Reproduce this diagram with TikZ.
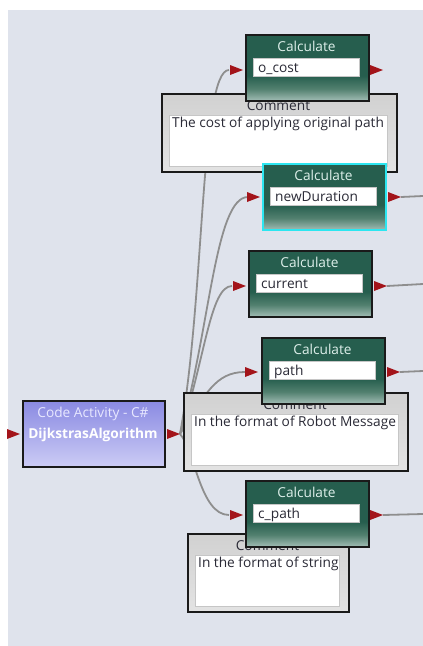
\documentclass[tikz,border=0pt]{standalone}
\usepackage{fontspec}
\setmainfont{Open Sans}
\usetikzlibrary{calc}
\definecolor{bg}{HTML}{DFE3EC}
\definecolor{calcdark}{HTML}{265E4E}
\definecolor{calcmid}{HTML}{52806F}
\definecolor{calclight}{HTML}{A2BDB5}
\definecolor{calctitlec}{HTML}{DDEFEA}
\definecolor{boxborder}{HTML}{1A1A1A}
\definecolor{cyanborder}{HTML}{2CE6F0}
\definecolor{cmttop}{HTML}{D1D1D1}
\definecolor{cmtbot}{HTML}{E3E3E3}
\definecolor{cmtinnerb}{HTML}{C6C6C6}
\definecolor{codetop}{HTML}{8A8AE2}
\definecolor{codebot}{HTML}{CCCCF5}
\definecolor{codetitlec}{HTML}{E8E8FF}
\definecolor{connc}{HTML}{8E8E8E}
\definecolor{arrowred}{HTML}{A3141A}
\definecolor{textdark}{HTML}{2A2A36}
\pgfdeclareverticalshading{calcshade}{100bp}{color(0bp)=(calclight); color(25bp)=(calclight); color(34bp)=(calcmid); color(44bp)=(calcdark); color(100bp)=(calcdark)}
\newcommand{\calcblk}[5]{%
  \node[calcbox,#5] (#1) at (#2,#3) {};
  \node[calctitle] (#1-title) at ({#2+61.5},{#3+17}) {Calculate};
  \node[calcfield] (#1-field) at ({#2+8},{#3+24}) {};
  \node[fieldtext] (#1-text) at ({#2+13},{#3+38}) {#4};
}
\newcommand{\cmtblk}[5]{%
  \node[cmtbox,minimum width=#4] (#1) at (#2,#3) {};
  \node[cmttitle] (#1-title) at ({#2+#4/2},{#3+17}) {Comment};
  \node[cmtinner,minimum width={#4-17}] (#1-inner) at ({#2+8},{#3+22}) {};
  \node[cmttext] (#1-text) at ({#2+11},{#3+34}) {#5};
}
\newcommand{\redtri}[1]{\fill[arrowred] (#1) -- ++(-13,-5) -- ++(0,10) -- cycle;}
\begin{document}
\begin{tikzpicture}[x=1pt,y=-1pt,
  every node/.style={font=\fontsize{13.7}{16}\selectfont},
  calcbox/.style={anchor=north west,rectangle,inner sep=0pt,minimum width=123pt,minimum height=66pt,shading=calcshade,draw=boxborder,line width=1.5pt},
  cyanframe/.style={draw=cyanborder,line width=2pt},
  calctitle/.style={anchor=base,inner sep=0pt,text=calctitlec},
  calcfield/.style={anchor=north west,rectangle,inner sep=0pt,minimum width=106pt,minimum height=18pt,fill=white,draw=cmtinnerb,line width=0.6pt},
  fieldtext/.style={anchor=base west,inner sep=0pt,text=textdark},
  cmtbox/.style={anchor=north west,rectangle,inner sep=0pt,minimum height=78pt,top color=cmttop,bottom color=cmtbot,draw=boxborder,line width=1.5pt},
  cmttitle/.style={anchor=base,inner sep=0pt,text=textdark},
  cmtinner/.style={anchor=north west,rectangle,inner sep=0pt,minimum height=51pt,fill=white,draw=cmtinnerb,line width=1pt},
  cmttext/.style={anchor=base west,inner sep=0pt,text=textdark},
  codebox/.style={anchor=north west,rectangle,inner sep=0pt,minimum width=142pt,minimum height=66pt,top color=codetop,bottom color=codebot,draw=boxborder,line width=1.5pt},
  codetitle/.style={anchor=base,inner sep=0pt,text=codetitlec},
  codename/.style={anchor=base,inner sep=0pt,text=white,font=\fontsize{13.7}{16}\selectfont\bfseries},
  conn/.style={draw=connc,line width=1.8pt}
]
\useasboundingbox (0,0) rectangle (423,646);
\fill[bg] (8,10) rectangle (423,646);

% connector end points
\coordinate (src) at (180,434);
\coordinate (dijk-in) at (20,434);
\coordinate (ocost-inb) at (229,70);   \coordinate (ocost-in) at (243,70);
\coordinate (newdur-inb) at (248,197); \coordinate (newdur-in) at (260,197);
\coordinate (current-inb) at (232,286);\coordinate (current-in) at (246,286);
\coordinate (path-inb) at (245,372);   \coordinate (path-in) at (258,372);
\coordinate (cpath-inb) at (229,515);  \coordinate (cpath-in) at (243,515);
\coordinate (ocost-out) at (383,70);
\coordinate (newdur-out) at (401,197); \coordinate (newdur-end) at (423,196);
\coordinate (current-out) at (387,286);\coordinate (current-end) at (423,284);
\coordinate (path-out) at (400,372);   \coordinate (path-end) at (423,371);
\coordinate (cpath-out) at (383,515);  \coordinate (cpath-end) at (423,514);

% connectors
\draw[conn] (src) .. controls (205,300) and (200,70) .. (ocost-inb);
\draw[conn] (src) .. controls (210,330) and (215,197) .. (newdur-inb);
\draw[conn] (src) .. controls (205,360) and (210,286) .. (current-inb);
\draw[conn] (src) .. controls (205,395) and (215,372) .. (path-inb);
\draw[conn] (src) .. controls (195,450) and (200,515) .. (cpath-inb);
\draw[conn] (newdur-out) -- (newdur-end);
\draw[conn] (current-out) -- (current-end);
\draw[conn] (path-out) -- (path-end);
\draw[conn] (cpath-out) -- (cpath-end);

% comments
\cmtblk{cmt1}{161}{93}{235}{The cost of applying original path}
\cmtblk{cmt2}{183}{392}{224}{In the format of Robot Message}
\cmtblk{cmt3}{187}{533}{161}{In the format of string}

% calculate blocks
\calcblk{ocost}{245}{34}{o\_cost}{}
\calcblk{newdur}{262}{163}{newDuration}{cyanframe}
\calcblk{current}{248}{250}{current}{}
\calcblk{path}{261}{337}{path}{}
\calcblk{cpath}{245}{480}{c\_path}{}

% code activity
\node[codebox] (dijk) at (22,400) {};
\node[codetitle] (dijk-title) at (93,417) {Code Activity - C\#};
\node[codename] (dijk-name) at (93,438) {DijkstrasAlgorithm};

% arrow heads
\redtri{dijk-in}
\redtri{src}
\redtri{ocost-in}
\redtri{newdur-in}
\redtri{current-in}
\redtri{path-in}
\redtri{cpath-in}
\redtri{ocost-out}
\redtri{newdur-out}
\redtri{current-out}
\redtri{path-out}
\redtri{cpath-out}
\end{tikzpicture}
\end{document}
